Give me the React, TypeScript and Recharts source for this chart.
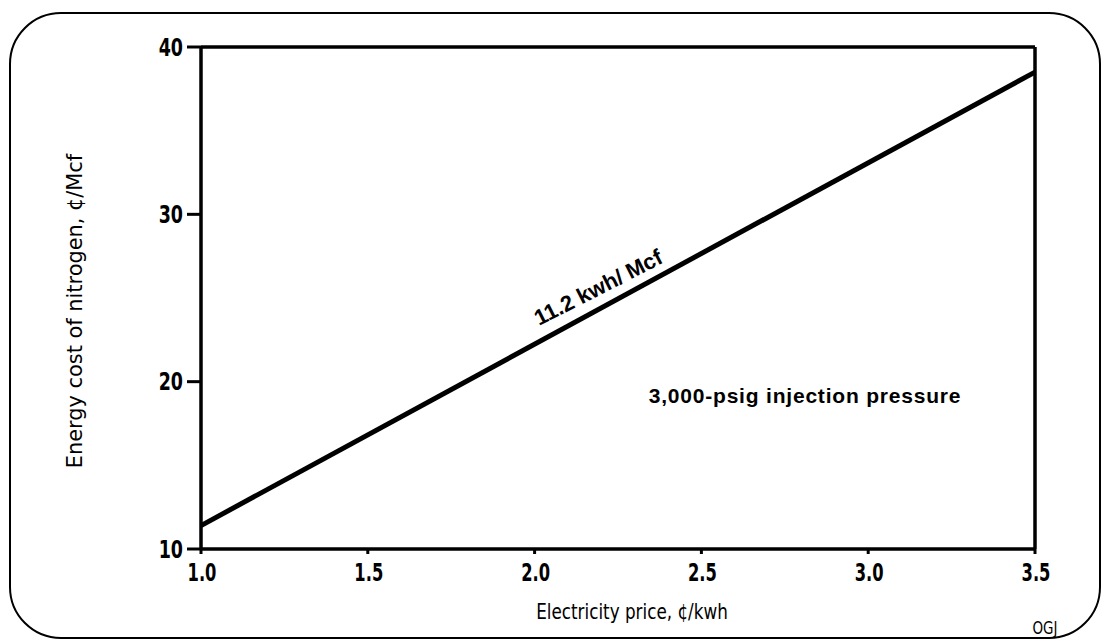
import React from "react";
import { LineChart, Line, XAxis, YAxis, ReferenceLine } from "recharts";

const prices = [1.0, 3.5];
const costs = [11.4, 38.5];
const xTicks = [1.0, 1.5, 2.0, 2.5, 3.0, 3.5];
const yTicks = [10, 20, 30, 40];
const xTitle = "Electricity price, ¢/kwh";
const yTitle = "Energy cost of nitrogen, ¢/Mcf";
const lineLabel = "11.2 kwh/ Mcf";
const noteLabel = "3,000-psig injection pressure";
const credit = "OGJ";

const data = prices.map((p, i) => ({ price: p, cost: costs[i] }));

const face = "'DejaVu Sans', sans-serif";
const bold = "'Liberation Sans', Arial, sans-serif";

const XTick = (props: any) => {
  const { x, y, payload } = props;
  return (
    <text
      transform={`translate(${x + 1} ${y + 17}) scale(0.68 1)`}
      textAnchor="middle"
      dominantBaseline="central"
      style={{ fontFamily: face, fontWeight: 700, fontSize: 24, fill: "#000" }}
    >
      {Number(payload.value).toFixed(1)}
    </text>
  );
};

const YTick = (props: any) => {
  const { x, y, payload } = props;
  return (
    <text
      transform={`translate(${x - 2} ${y}) scale(0.7 1)`}
      textAnchor="end"
      dominantBaseline="central"
      style={{ fontFamily: face, fontWeight: 700, fontSize: 25, fill: "#000" }}
    >
      {payload.value}
    </text>
  );
};

export default function App() {
  return (
    <div style={{ position: "absolute", left: 0, top: 0, width: 1102, height: 642, background: "#fff" }}>
      <div
        style={{
          position: "absolute",
          left: 9,
          top: 12,
          width: 1088,
          height: 623,
          border: "2.5px solid #000",
          borderRadius: 52,
        }}
      />
      <div style={{ position: "absolute", left: 0, top: 0 }}>
        <LineChart
          width={1102}
          height={642}
          data={data}
          margin={{ top: 47, right: 67, bottom: 53, left: 101 }}
        >
          <XAxis
            dataKey="price"
            type="number"
            domain={[1, 3.5]}
            ticks={xTicks}
            height={40}
            stroke="#000"
            strokeWidth={3.5}
            tickSize={5}
            tickLine={{ stroke: "#000", strokeWidth: 3 }}
            tick={<XTick />}
          />
          <YAxis
            type="number"
            domain={[10, 40]}
            ticks={yTicks}
            width={100}
            stroke="#000"
            strokeWidth={3.5}
            tickSize={14}
            tickLine={{ stroke: "#000", strokeWidth: 3 }}
            tick={<YTick />}
          />
          <ReferenceLine y={40} stroke="#000" strokeWidth={3.5} />
          <ReferenceLine x={3.5} stroke="#000" strokeWidth={3.5} />
          <Line
            dataKey="cost"
            stroke="#000"
            strokeWidth={5}
            dot={false}
            isAnimationActive={false}
          />
          <text
            transform="translate(632 611) scale(0.8 1)"
            textAnchor="middle"
            dominantBaseline="central"
            style={{ fontFamily: face, fontSize: 21, fill: "#000" }}
          >
            {xTitle}
          </text>
          <text
            transform="translate(74 311) rotate(-90) scale(0.95 1)"
            textAnchor="middle"
            dominantBaseline="central"
            style={{ fontFamily: face, fontSize: 22, fill: "#000" }}
          >
            {yTitle}
          </text>
          <text
            x={599}
            y={289}
            textAnchor="middle"
            dominantBaseline="middle"
            transform="rotate(-27 599 289)"
            style={{ fontFamily: bold, fontWeight: 700, fontSize: 22, fill: "#000" }}
          >
            {lineLabel}
          </text>
          <text
            x={805}
            y={397}
            textAnchor="middle"
            dominantBaseline="middle"
            style={{ fontFamily: bold, fontWeight: 700, fontSize: 21, letterSpacing: 0.8, fill: "#000" }}
          >
            {noteLabel}
          </text>
          <text
            transform="translate(1045 628) scale(0.75 1)"
            textAnchor="middle"
            dominantBaseline="central"
            style={{ fontFamily: face, fontSize: 18, fill: "#000" }}
          >
            {credit}
          </text>
        </LineChart>
      </div>
    </div>
  );
}
